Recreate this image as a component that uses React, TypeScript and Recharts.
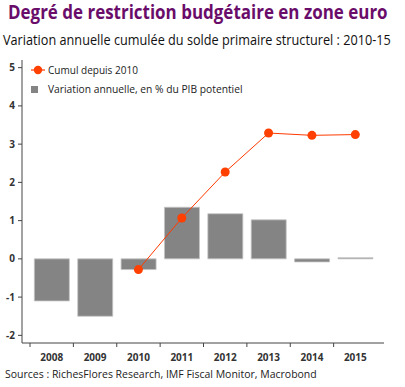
import React from 'react';
import { ComposedChart, Bar, Line, XAxis, YAxis } from 'recharts';

// données
const years = ['2008', '2009', '2010', '2011', '2012', '2013', '2014', '2015'];
const annualChange = [-1.1, -1.5, -0.28, 1.35, 1.18, 1.02, -0.08, 0.03];
const cumulSince2010 = [null, null, -0.28, 1.07, 2.27, 3.29, 3.23, 3.25];
const yTicks = [-2, -1, 0, 1, 2, 3, 4, 5];

const data = years.map((year, i) => ({
  year,
  annual: annualChange[i],
  cumul: cumulSince2010[i],
}));

const FONT = '"Open Sans", "Noto Sans", sans-serif';
const RED = '#ff3a00';
const GREY = '#848484';

// tick placé sur la frontière gauche de chaque catégorie (style Excel)
const YearTick = (props: any) => {
  const { x, y, payload } = props;
  const half = payload && payload.offset ? payload.offset : 21.7;
  return (
    <g>
      <line x1={x - half} x2={x - half} y1={y} y2={y + 4} stroke="#444" strokeWidth={1} />
      <text x={x} y={y + 18} textAnchor="middle" fontSize={10} fontWeight={700} fill="#333" fontFamily={FONT}>
        {payload.value}
      </text>
    </g>
  );
};

// texte comprimé horizontalement pour tenir dans la largeur voulue (police Calibri absente)
const FitText = ({ x, y, width, children, ...rest }: any) => {
  const ref = React.useRef<SVGTextElement>(null);
  const [sx, setSx] = React.useState(1);
  React.useLayoutEffect(() => {
    if (ref.current) {
      const w = ref.current.getComputedTextLength();
      if (w > 0) setSx(width / w);
    }
  }, [width]);
  return (
    <text ref={ref} transform={`translate(${x},${y}) scale(${sx},1)`} fontFamily={FONT} {...rest}>
      {children}
    </text>
  );
};

export default function App() {
  return (
    <div style={{ position: 'absolute', left: 0, top: 0, width: 405, height: 387, background: '#fff' }}>
      <ComposedChart
        width={405}
        height={387}
        data={data}
        margin={{ top: 60, right: 21, bottom: 14, left: 0 }}
        barCategoryGap="10%"
      >
        <XAxis
          dataKey="year"
          padding={{ left: 8, right: 7 }}
          axisLine={{ stroke: '#444' }}
          tickLine={false}
          tickSize={0}
          tickMargin={0}
          height={30}
          interval={0}
          tick={<YearTick />}
        />
        <YAxis
          domain={[-2.2, 5.2]}
          ticks={yTicks}
          width={22}
          axisLine={{ stroke: '#444' }}
          tickLine={{ stroke: '#444' }}
          tickSize={4}
          tickMargin={3}
          tick={{ fontSize: 10, fontWeight: 700, fill: '#333', fontFamily: FONT }}
        />
        <Bar dataKey="annual" fill={GREY} stroke="#c4c4c4" strokeWidth={0.8} isAnimationActive={false} />
        <Line
          dataKey="cumul"
          stroke={RED}
          strokeWidth={1}
          dot={{ r: 4.5, fill: '#ff4000', stroke: 'none' }}
          activeDot={false}
          connectNulls={false}
          isAnimationActive={false}
        />
      </ComposedChart>
      <svg
        width={405}
        height={387}
        style={{ position: 'absolute', left: 0, top: 0, pointerEvents: 'none' }}
      >
        <FitText x={8} y={19} width={380} fontSize={19} fontWeight={700} fill="#6a0d6a">
          Degré de restriction budgétaire en zone euro
        </FitText>
        <FitText x={3} y={45} width={388} fontSize={14} fill="#111">
          Variation annuelle cumulée du solde primaire structurel : 2010-15
        </FitText>
        {/* légende */}
        <line x1={31} x2={45} y1={70} y2={70} stroke={RED} strokeWidth={1.2} />
        <circle cx={38} cy={70} r={4.2} fill="#ff4000" />
        <FitText x={48} y={74} width={90} fontSize={11} fill="#222">
          Cumul depuis 2010
        </FitText>
        <rect x={31} y={86} width={7} height={7} fill={GREY} />
        <FitText x={48} y={93} width={195} fontSize={11} fill="#222">
          Variation annuelle, en % du PIB potentiel
        </FitText>
        <FitText x={5} y={378} width={312} fontSize={11.5} fill="#222">
          Sources : RichesFlores Research, IMF Fiscal Monitor, Macrobond
        </FitText>
      </svg>
    </div>
  );
}
